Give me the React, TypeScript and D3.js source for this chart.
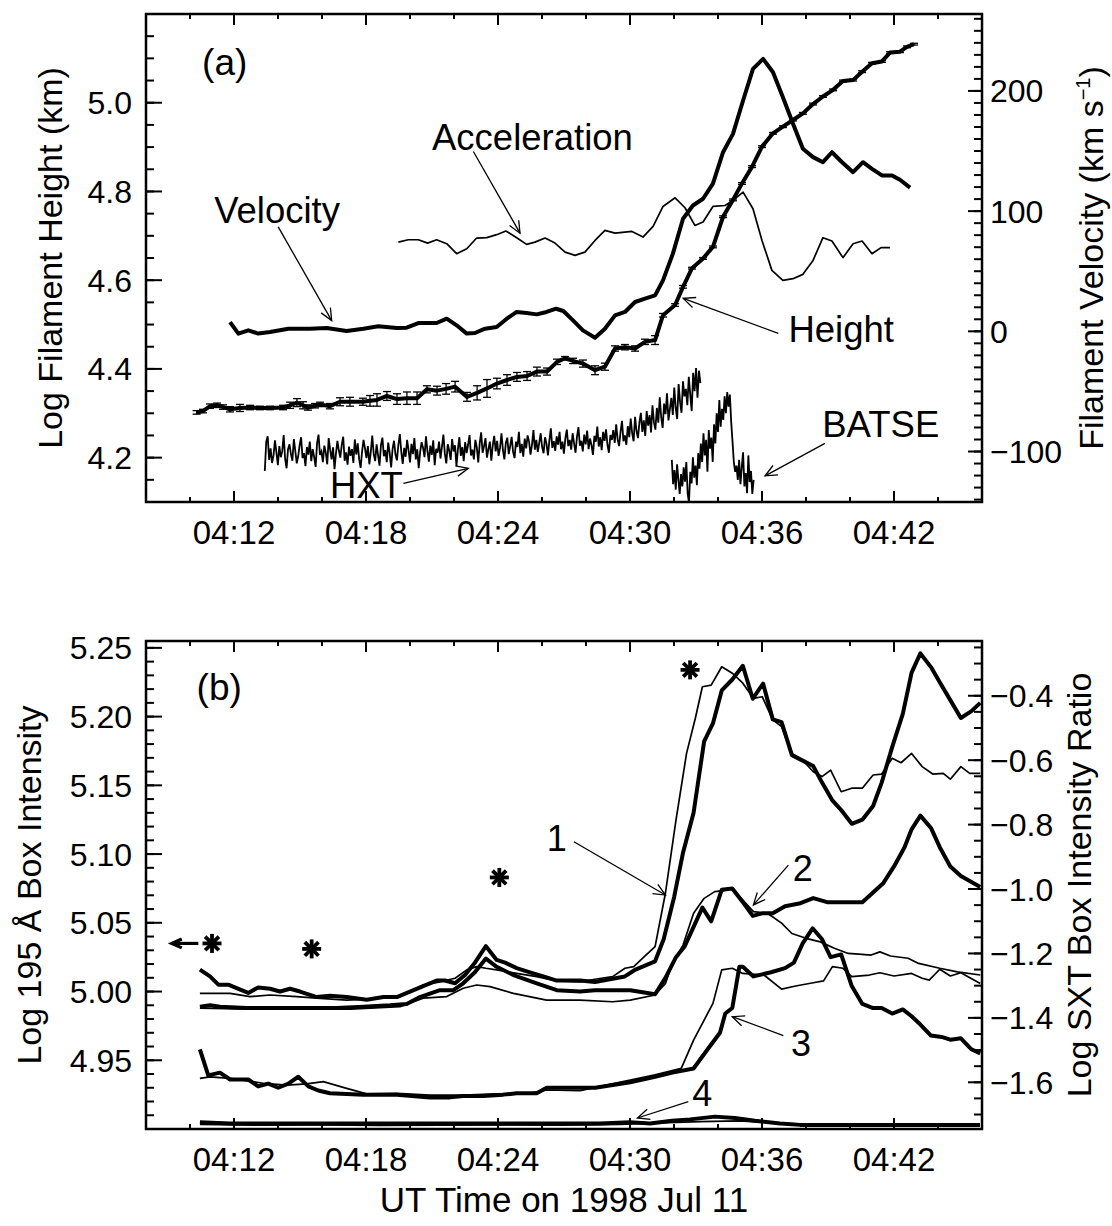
import React from 'react';
import * as d3 from 'd3';

// --- panel (a): filament height / velocity / acceleration, HXT & BATSE ---
// times are minutes after 04:00 UT

// [minute, log height (km), error]
const heightData: [number, number, number][] = [
  [10.30, 4.302, 0.004], [10.59, 4.305, 0.004], [10.91, 4.316, 0.005], [11.23, 4.318, 0.005],
  [11.50, 4.314, 0.005], [11.82, 4.309, 0.006], [12.27, 4.312, 0.008], [12.73, 4.313, 0.005],
  [13.18, 4.312, 0.004], [13.64, 4.312, 0.004], [14.23, 4.313, 0.005], [14.55, 4.318, 0.007],
  [14.86, 4.324, 0.009], [15.14, 4.318, 0.008], [15.36, 4.313, 0.006], [15.68, 4.317, 0.005],
  [15.91, 4.320, 0.005], [16.36, 4.316, 0.006], [16.82, 4.326, 0.009], [17.27, 4.326, 0.010],
  [17.86, 4.326, 0.008], [18.18, 4.328, 0.012], [18.50, 4.330, 0.014], [18.95, 4.339, 0.010],
  [19.41, 4.332, 0.012], [19.86, 4.334, 0.014], [20.32, 4.334, 0.014], [20.77, 4.354, 0.008],
  [21.23, 4.351, 0.010], [21.64, 4.355, 0.012], [22.05, 4.360, 0.012], [22.59, 4.337, 0.010],
  [23.05, 4.346, 0.016], [23.50, 4.356, 0.020], [23.95, 4.367, 0.012], [24.41, 4.375, 0.012],
  [24.86, 4.382, 0.010], [25.32, 4.384, 0.010], [25.77, 4.394, 0.010], [26.23, 4.394, 0.008],
  [26.68, 4.416, 0.006], [27.05, 4.424, 0.004], [27.41, 4.418, 0.006], [27.86, 4.412, 0.008],
  [28.41, 4.397, 0.010], [28.86, 4.405, 0.008], [29.32, 4.446, 0.006], [29.77, 4.449, 0.006],
  [30.23, 4.446, 0.006], [30.68, 4.461, 0.006], [31.14, 4.465, 0.010], [31.50, 4.521, 0.004],
  [32.05, 4.544, 0.003], [32.41, 4.585, 0.003], [32.82, 4.627, 0.002], [33.32, 4.649, 0.002],
  [33.77, 4.675, 0.002], [34.23, 4.743, 0.002], [34.68, 4.781, 0.002], [35.09, 4.818, 0.002],
  [35.55, 4.856, 0.002], [36.00, 4.901, 0.002], [36.50, 4.931, 0.002], [36.95, 4.946, 0.002],
  [37.41, 4.961, 0.002], [37.86, 4.976, 0.002], [38.32, 4.997, 0.002], [38.77, 5.014, 0.002],
  [39.23, 5.029, 0.002], [39.68, 5.049, 0.002], [40.14, 5.051, 0.002], [40.55, 5.070, 0.002],
  [41.00, 5.089, 0.002], [41.45, 5.093, 0.002], [41.82, 5.113, 0.002], [42.27, 5.115, 0.002],
  [42.59, 5.126, 0.002], [42.91, 5.132, 0.002],
];

// [minute, km/s]
const velocityData: [number, number][] = [
  [11.82, 7.7], [12.20, -1.9], [12.65, 0.8], [13.10, -1.9], [13.64, -0.6], [14.47, 2.2],
  [15.45, 2.2], [16.21, 2.8], [17.12, 0.3], [17.88, 2.2], [18.56, 4.2], [19.40, 2.8],
  [19.85, 3.0], [20.38, 6.9], [21.21, 6.9], [21.67, 10.5], [22.12, 5.0], [22.58, -1.9],
  [22.95, -1.4], [23.41, 2.2], [23.94, 3.6], [24.40, 10.5], [24.85, 16.1], [25.30, 15.2],
  [25.76, 14.1], [26.21, 16.1], [26.64, 18.8], [26.97, 16.9], [27.41, 9.1], [27.86, 0.8],
  [28.41, -5.3], [28.86, 2.2], [29.32, 13.3], [29.77, 16.1], [30.23, 24.4], [30.68, 27.2],
  [31.14, 29.9], [31.50, 42.4], [31.95, 64.6], [32.41, 93.7], [32.86, 104.7], [33.32, 110.3],
  [33.77, 122.8], [34.23, 149.0], [34.68, 164.3], [35.14, 192.0], [35.59, 218.4], [36.05, 226.7],
  [36.50, 215.5], [36.95, 194.8], [37.41, 172.7], [37.86, 151.9], [38.32, 144.9], [38.77, 140.7],
  [39.18, 149.0], [39.64, 140.7], [40.14, 132.4], [40.59, 140.7], [41.00, 135.2], [41.45, 129.7],
  [41.91, 129.7], [42.27, 126.1], [42.73, 119.5],
];

// acceleration, drawn on the velocity axis (arbitrary offset/units)
const accelData: [number, number][] = [
  [19.47, 74.2], [19.92, 76.2], [20.38, 76.2], [20.80, 73.4], [21.21, 76.2], [21.67, 72.9],
  [22.12, 64.6], [22.58, 68.7], [23.03, 77.6], [23.49, 77.9], [23.94, 80.4], [24.36, 83.4],
  [24.85, 77.9], [25.30, 72.3], [25.68, 74.2], [26.14, 77.6], [26.59, 73.4], [27.05, 65.9],
  [27.50, 63.2], [27.95, 65.9], [28.41, 75.6], [28.86, 84.0], [29.32, 81.7], [30.09, 83.1],
  [30.59, 78.4], [31.05, 87.3], [31.50, 103.9], [32.05, 111.1], [32.50, 102.8], [32.95, 88.1],
  [33.32, 90.9], [33.77, 103.9], [34.32, 104.7], [34.68, 108.9], [35.14, 115.8], [35.59, 102.0],
  [36.00, 75.6], [36.45, 50.7], [36.95, 42.4], [37.41, 43.8], [37.86, 47.4], [38.32, 59.0],
  [38.77, 77.9], [39.18, 75.1], [39.68, 61.3], [40.14, 72.9], [40.55, 75.1], [41.00, 64.6],
  [41.41, 69.6], [41.82, 69.6],
];

// HXT count rate, scaled onto the height axis
const hxtStart = 13.4;
const hxtStep = 0.066;
const hxtValues = [
  4.170, 4.236, 4.248, 4.195, 4.221, 4.188, 4.205, 4.239, 4.212, 4.183,
  4.226, 4.201, 4.214, 4.251, 4.197, 4.176, 4.219, 4.230, 4.208, 4.193,
  4.242, 4.215, 4.187, 4.203, 4.228, 4.246, 4.199, 4.210, 4.181, 4.224,
  4.207, 4.236, 4.192, 4.219, 4.201, 4.179, 4.233, 4.252, 4.206, 4.214,
  4.190, 4.227, 4.211, 4.185, 4.244, 4.218, 4.196, 4.223, 4.174, 4.209,
  4.238, 4.216, 4.200, 4.229, 4.247, 4.193, 4.212, 4.184, 4.225, 4.204,
  4.219, 4.188, 4.241, 4.207, 4.232, 4.196, 4.177, 4.214, 4.240, 4.221,
  4.199, 4.226, 4.185, 4.213, 4.250, 4.209, 4.192, 4.230, 4.205, 4.182,
  4.228, 4.245, 4.203, 4.217, 4.190, 4.234, 4.211, 4.178, 4.220, 4.238,
  4.207, 4.194, 4.229, 4.253, 4.213, 4.186, 4.222, 4.202, 4.240, 4.217,
  4.189, 4.231, 4.208, 4.244, 4.196, 4.219, 4.176, 4.213, 4.235, 4.222,
  4.201, 4.248, 4.215, 4.191, 4.227, 4.206, 4.239, 4.183, 4.220, 4.211,
  4.236, 4.198, 4.225, 4.252, 4.209, 4.187, 4.230, 4.216, 4.195, 4.242,
  4.214, 4.228, 4.181, 4.219, 4.246, 4.204, 4.224, 4.192, 4.235, 4.210,
  4.229, 4.251, 4.205, 4.218, 4.196, 4.240, 4.223, 4.189, 4.232, 4.257,
  4.211, 4.226, 4.244, 4.200, 4.219, 4.236, 4.193, 4.228, 4.249, 4.214,
  4.238, 4.204, 4.222, 4.255, 4.217, 4.196, 4.233, 4.245, 4.208, 4.226,
  4.247, 4.213, 4.199, 4.236, 4.224, 4.258, 4.210, 4.231, 4.202, 4.243,
  4.221, 4.250, 4.236, 4.207, 4.229, 4.262, 4.218, 4.240, 4.213, 4.233,
  4.255, 4.224, 4.210, 4.246, 4.231, 4.205, 4.239, 4.266, 4.222, 4.237,
  4.215, 4.248, 4.229, 4.258, 4.219, 4.236, 4.209, 4.244, 4.263, 4.226,
  4.240, 4.218, 4.255, 4.232, 4.211, 4.247, 4.269, 4.227, 4.238, 4.214,
  4.252, 4.230, 4.261, 4.219, 4.243, 4.228, 4.206, 4.249, 4.236, 4.270,
  4.225, 4.246, 4.217, 4.258, 4.238, 4.264, 4.229, 4.211, 4.251, 4.240,
  4.262, 4.233, 4.275, 4.241, 4.226, 4.258, 4.283, 4.237, 4.250, 4.229,
  4.271, 4.246, 4.288, 4.255, 4.237, 4.292, 4.260, 4.244, 4.279, 4.301,
  4.258, 4.284, 4.249, 4.305, 4.272, 4.296, 4.257, 4.318, 4.280, 4.263,
  4.312, 4.279, 4.336, 4.291, 4.267, 4.322, 4.298, 4.345, 4.284, 4.310,
  4.335, 4.296, 4.358, 4.312, 4.287, 4.366, 4.325, 4.301, 4.372, 4.338,
  4.355, 4.318, 4.382, 4.342, 4.305, 4.391, 4.350, 4.402, 4.335, 4.396,
  4.368,
];

// BATSE count rate, scaled onto the height axis
const batseStart = 31.9;
const batseStep = 0.06;
const batseValues = [
  4.195, 4.140, 4.172, 4.128, 4.185, 4.150, 4.118, 4.163, 4.135, 4.178,
  4.146, 4.190, 4.120, 4.098, 4.168, 4.142, 4.201, 4.155, 4.182, 4.138,
  4.210, 4.175, 4.232, 4.190, 4.255, 4.205, 4.240, 4.168, 4.262, 4.220,
  4.245, 4.190, 4.275, 4.232, 4.300, 4.258, 4.330, 4.270, 4.310, 4.285,
  4.338, 4.300, 4.348, 4.315, 4.342, 4.280, 4.236, 4.190, 4.168, 4.182,
  4.150, 4.195, 4.140, 4.178, 4.212, 4.135, 4.165, 4.120, 4.205, 4.145,
  4.170, 4.118, 4.150,
];

// --- panel (b): box intensities. thick = log 195 A (left), thin = log SXT ratio (right) ---
const box1Euv: [number, number][] = [
  [10.45, 5.016], [10.91, 5.011], [11.29, 5.005], [11.74, 5.005], [12.20, 5.002], [12.65, 4.999],
  [13.10, 5.003], [13.64, 5.002], [14.09, 5.000], [14.55, 5.002], [15.00, 5.000], [15.76, 4.996],
  [16.36, 4.997], [17.12, 4.996], [18.03, 4.994], [18.79, 4.996], [19.40, 4.996], [20.00, 5.000],
  [20.60, 5.004], [21.21, 5.008], [21.59, 5.008], [22.05, 5.006], [22.50, 5.012], [22.95, 5.021],
  [23.45, 5.033], [23.94, 5.023], [24.32, 5.021], [24.85, 5.017], [25.45, 5.014], [26.06, 5.011],
  [26.67, 5.008], [27.73, 5.008], [28.41, 5.007], [29.77, 5.011], [30.25, 5.016], [31.14, 5.022],
  [31.53, 5.038], [32.01, 5.069], [32.41, 5.101], [32.89, 5.130], [33.37, 5.182], [33.77, 5.195],
  [34.17, 5.219], [34.65, 5.227], [35.13, 5.237], [35.58, 5.213], [36.05, 5.224], [36.49, 5.198],
  [36.89, 5.196], [37.36, 5.172], [37.85, 5.168], [38.33, 5.164], [38.73, 5.152], [39.20, 5.139],
  [39.60, 5.132], [40.08, 5.122], [40.56, 5.125], [41.05, 5.135], [41.44, 5.152], [41.92, 5.178],
  [42.40, 5.202], [42.80, 5.232], [43.20, 5.246], [43.68, 5.236], [44.08, 5.225], [44.56, 5.212],
  [45.04, 5.199], [45.52, 5.204], [45.92, 5.210],
];
const box1Sxt: [number, number][] = [
  [10.45, -1.324], [11.82, -1.324], [12.73, -1.334], [13.64, -1.329], [14.85, -1.334], [15.76, -1.339],
  [17.12, -1.345], [18.18, -1.342], [19.40, -1.334], [20.00, -1.319], [20.60, -1.298], [21.36, -1.288],
  [22.05, -1.277], [22.58, -1.251], [23.03, -1.241], [23.45, -1.246], [23.94, -1.251], [24.85, -1.262],
  [25.76, -1.272], [26.67, -1.285], [27.73, -1.288], [28.41, -1.280], [29.21, -1.272], [29.77, -1.246],
  [30.17, -1.241], [30.65, -1.210], [31.14, -1.179], [31.61, -1.013], [32.09, -0.786], [32.57, -0.579],
  [32.97, -0.470], [33.29, -0.372], [33.69, -0.367], [34.17, -0.310], [34.65, -0.330], [35.13, -0.361],
  [35.61, -0.408], [36.01, -0.403], [36.49, -0.475], [36.89, -0.496], [37.36, -0.579], [37.85, -0.600],
  [38.33, -0.636], [38.73, -0.651], [39.12, -0.631], [39.60, -0.698], [40.08, -0.687], [40.56, -0.687],
  [41.05, -0.646], [41.44, -0.643], [41.92, -0.594], [42.32, -0.608], [42.80, -0.579], [43.28, -0.620],
  [43.76, -0.643], [44.24, -0.641], [44.56, -0.659], [45.04, -0.620], [45.44, -0.641], [45.92, -0.641],
];
const box2Euv: [number, number][] = [
  [10.45, 4.989], [10.91, 4.990], [11.36, 4.989], [12.58, 4.988], [14.09, 4.988], [15.60, 4.988],
  [16.67, 4.988], [17.88, 4.989], [19.09, 4.990], [19.85, 4.991], [20.45, 4.996], [21.36, 5.001],
  [21.97, 5.001], [22.42, 5.006], [22.95, 5.014], [23.45, 5.024], [23.94, 5.018], [24.70, 5.012],
  [25.76, 5.006], [26.67, 5.001], [27.73, 5.000], [28.41, 5.001], [30.01, 5.001], [31.14, 4.998],
  [31.61, 5.010], [32.09, 5.025], [32.49, 5.033], [32.89, 5.047], [33.29, 5.061], [33.69, 5.051],
  [34.17, 5.074], [34.65, 5.075], [35.13, 5.065], [35.58, 5.055], [36.05, 5.057], [36.49, 5.057],
  [37.05, 5.062], [37.69, 5.064], [38.33, 5.068], [38.96, 5.065], [39.92, 5.065], [40.56, 5.065],
  [41.05, 5.072], [41.52, 5.079], [42.00, 5.091], [42.48, 5.105], [42.80, 5.118], [43.20, 5.128],
  [43.68, 5.119], [44.08, 5.105], [44.56, 5.091], [45.04, 5.084], [45.92, 5.076],
];
const box2Sxt: [number, number][] = [
  [10.45, -1.370], [12.73, -1.373], [15.00, -1.373], [17.27, -1.373], [19.55, -1.365], [20.60, -1.339],
  [21.67, -1.334], [22.42, -1.308], [23.03, -1.298], [23.64, -1.303], [24.70, -1.324], [26.21, -1.345],
  [27.73, -1.345], [29.21, -1.350], [30.01, -1.345], [31.14, -1.329], [31.61, -1.293], [31.93, -1.231],
  [32.41, -1.174], [32.89, -1.075], [33.37, -1.029], [33.85, -1.008], [34.25, -1.005], [34.65, -0.998],
  [35.13, -1.034], [35.61, -1.070], [36.25, -1.075], [36.89, -1.106], [37.36, -1.138], [38.00, -1.153],
  [38.65, -1.164], [39.29, -1.184], [39.92, -1.200], [40.40, -1.202], [40.96, -1.205], [41.36, -1.195],
  [41.84, -1.208], [42.64, -1.215], [43.12, -1.231], [44.08, -1.246], [44.88, -1.257], [45.92, -1.267],
];
const box3Euv: [number, number][] = [
  [10.45, 4.958], [10.83, 4.939], [11.36, 4.941], [11.82, 4.936], [12.65, 4.936], [13.10, 4.931],
  [13.56, 4.933], [14.01, 4.930], [14.47, 4.933], [14.92, 4.938], [15.38, 4.931], [15.83, 4.928],
  [16.36, 4.926], [17.88, 4.925], [19.40, 4.925], [20.91, 4.923], [21.82, 4.923], [22.42, 4.924],
  [23.33, 4.924], [24.24, 4.925], [24.85, 4.926], [25.76, 4.926], [26.21, 4.930], [27.73, 4.930],
  [28.42, 4.930], [30.01, 4.934], [31.14, 4.938], [31.93, 4.941], [32.89, 4.944], [33.53, 4.958],
  [34.09, 4.970], [34.33, 4.984], [34.65, 4.988], [34.97, 5.018], [35.13, 5.018], [35.61, 5.011],
  [36.41, 5.014], [37.05, 5.017], [37.45, 5.021], [37.85, 5.035], [38.30, 5.046], [38.73, 5.038],
  [39.12, 5.025], [39.60, 5.027], [40.08, 5.004], [40.56, 4.991], [41.05, 4.988], [41.44, 4.988],
  [41.92, 4.984], [42.40, 4.987], [42.80, 4.982], [43.20, 4.976], [43.68, 4.968], [44.16, 4.967],
  [44.56, 4.965], [45.04, 4.966], [45.52, 4.958], [45.92, 4.955],
];
const box3Sxt: [number, number][] = [
  [10.45, -1.588], [10.91, -1.583], [11.82, -1.588], [13.33, -1.603], [14.40, -1.609], [15.30, -1.605],
  [16.06, -1.598], [17.12, -1.619], [18.03, -1.636], [19.40, -1.634], [20.91, -1.640], [22.42, -1.640],
  [23.94, -1.636], [25.45, -1.634], [26.21, -1.624], [27.73, -1.626], [30.01, -1.593], [31.14, -1.577],
  [32.33, -1.557], [32.89, -1.469], [33.37, -1.407], [33.77, -1.355], [34.17, -1.251], [34.65, -1.246],
  [35.13, -1.262], [36.09, -1.267], [36.89, -1.311], [37.53, -1.301], [38.33, -1.291], [38.80, -1.285],
  [39.20, -1.241], [39.68, -1.246], [40.08, -1.272], [40.88, -1.267], [41.36, -1.260], [42.00, -1.270],
  [42.80, -1.262], [43.28, -1.277], [43.60, -1.283], [44.08, -1.249], [44.56, -1.270], [45.04, -1.260],
  [45.92, -1.293],
];
const box4Euv: [number, number][] = [
  [10.45, 4.905], [11.82, 4.904], [13.64, 4.904], [15.45, 4.904], [17.27, 4.904], [19.55, 4.904],
  [21.36, 4.904], [23.18, 4.904], [25.00, 4.904], [26.82, 4.904], [28.64, 4.904], [30.00, 4.905],
  [30.91, 4.904], [31.91, 4.906], [32.73, 4.907], [33.86, 4.909], [34.77, 4.908], [35.68, 4.906],
  [36.82, 4.904], [37.73, 4.903], [39.55, 4.903], [41.36, 4.903], [43.18, 4.903], [45.00, 4.903],
  [45.91, 4.903],
];
const box4Sxt: [number, number][] = [
  [10.45, -1.731], [13.18, -1.733], [15.91, -1.732], [18.64, -1.734], [21.36, -1.733], [24.09, -1.732],
  [26.82, -1.733], [29.55, -1.731], [31.36, -1.726], [33.18, -1.722], [35.00, -1.720], [36.82, -1.727],
  [38.64, -1.732], [41.36, -1.733], [44.09, -1.732], [45.91, -1.733],
];
// EIT 195 A full-cadence points (asterisks)
const eitPoints: [number, number][] = [[11.0, 5.035], [15.53, 5.031], [24.06, 5.083], [32.73, 5.234]];

const xMajor = [12, 18, 24, 30, 36, 42];
const heightTicks = [4.2, 4.4, 4.6, 4.8, 5.0];
const velocityTicks = [-100, 0, 100, 200];
const euvTicks = [4.95, 5.0, 5.05, 5.1, 5.15, 5.2, 5.25];
const ratioTicks = [-1.6, -1.4, -1.2, -1.0, -0.8, -0.6, -0.4];

const FONT = "'Liberation Sans', Arial, Helvetica, sans-serif";
const X0 = 146, X1 = 982;
const A_TOP = 14, A_BOT = 502;
const B_TOP = 641, B_BOT = 1129;

const minus = (s: string) => s.replace('-', '\u2212');

function multiples(d0: number, d1: number, step: number) {
  const lo = Math.min(d0, d1), hi = Math.max(d0, d1);
  const out: number[] = [];
  for (let k = Math.ceil(lo / step - 1e-6); k <= Math.floor(hi / step + 1e-6); k++) out.push(k * step);
  return out;
}

function Arrow({ x1, y1, x2, y2, w = 1.3, head = 13 }: any) {
  const a = Math.atan2(y2 - y1, x2 - x1);
  const s = 0.42;
  const p1 = [x2 - head * Math.cos(a - s), y2 - head * Math.sin(a - s)];
  const p2 = [x2 - head * Math.cos(a + s), y2 - head * Math.sin(a + s)];
  return (
    <g stroke="#000" strokeWidth={w} fill="none">
      <line x1={x1} y1={y1} x2={x2} y2={y2} />
      <polyline points={`${p1[0]},${p1[1]} ${x2},${y2} ${p2[0]},${p2[1]}`} />
    </g>
  );
}

function XAxis({ x, top, bot }: any) {
  const minors = multiples(8, 46, 2).filter((m) => !xMajor.includes(m));
  return (
    <g stroke="#000" strokeWidth={2}>
      {xMajor.map((m) => (
        <g key={m}>
          <line x1={x(m)} x2={x(m)} y1={bot} y2={bot - 11} />
          <line x1={x(m)} x2={x(m)} y1={top} y2={top + 11} />
        </g>
      ))}
      {minors.map((m) => (
        <g key={m}>
          <line x1={x(m)} x2={x(m)} y1={bot} y2={bot - 5} />
          <line x1={x(m)} x2={x(m)} y1={top} y2={top + 5} />
        </g>
      ))}
      {xMajor.map((m) => (
        <text key={'l' + m} x={x(m)} y={bot + 42} textAnchor="middle" fontSize={33} stroke="none" fill="#000">
          {`04:${String(m).padStart(2, '0')}`}
        </text>
      ))}
    </g>
  );
}

function YAxis({ scale, side, majors, minorStep, fmt, majorLen = 16, minorLen = 8 }: any) {
  const [d0, d1] = scale.domain();
  const minors = multiples(d0, d1, minorStep);
  const xe = side === 'left' ? X0 : X1;
  const dir = side === 'left' ? 1 : -1;
  return (
    <g stroke="#000" strokeWidth={2}>
      {minors.map((v) => (
        <line key={'m' + v} x1={xe} x2={xe + dir * minorLen} y1={scale(v)} y2={scale(v)} />
      ))}
      {majors.map((v: number) => (
        <g key={'M' + v}>
          <line x1={xe} x2={xe + dir * majorLen} y1={scale(v)} y2={scale(v)} />
          <text
            x={side === 'left' ? X0 - 14 : X1 + 8}
            y={scale(v)}
            dy="0.36em"
            textAnchor={side === 'left' ? 'end' : 'start'}
            fontSize={32}
            stroke="none"
            fill="#000"
          >
            {minus(fmt(v))}
          </text>
        </g>
      ))}
    </g>
  );
}

function Asterisk({ cx, cy }: any) {
  const r = 9.5;
  const k = r * 0.72;
  return (
    <g stroke="#000" strokeWidth={3.8}>
      <line x1={cx - r} x2={cx + r} y1={cy} y2={cy} />
      <line x1={cx} x2={cx} y1={cy - r} y2={cy + r} />
      <line x1={cx - k} x2={cx + k} y1={cy - k} y2={cy + k} />
      <line x1={cx - k} x2={cx + k} y1={cy + k} y2={cy - k} />
    </g>
  );
}

export default function App() {
  const x = d3.scaleLinear().domain([8, 46]).range([X0, X1]);
  const yH = d3.scaleLinear().domain([4.1, 5.2]).range([A_BOT, A_TOP]);
  const yV = d3.scaleLinear().domain([-142, 264]).range([A_BOT, A_TOP]);
  const yI = d3.scaleLinear().domain([4.9, 5.255]).range([B_BOT, B_TOP]);
  const yR = d3.scaleLinear().domain([-1.745, -0.23]).range([B_BOT, B_TOP]);

  const lineOn = (ys: any) => d3.line<[number, number]>().x((d) => x(d[0])).y((d) => ys(d[1]));
  const hxt: [number, number][] = hxtValues.map((v, i) => [hxtStart + i * hxtStep, v]);
  const batse: [number, number][] = batseValues.map((v, i) => [batseStart + i * batseStep, v]);

  const thick = { fill: 'none', stroke: '#000', strokeWidth: 4, strokeLinejoin: 'round' as const };
  const thin = { fill: 'none', stroke: '#000', strokeWidth: 1.7, strokeLinejoin: 'round' as const };

  const pA = (t: number, v: number) => [x(t), yH(v)];
  const pB = (t: number, v: number) => [x(t), yI(v)];

  const annA = [
    { text: 'Velocity', t: 11.1, v: 4.758, from: [14.01, 4.72], to: [16.44, 4.509] },
    { text: 'Acceleration', t: 21.0, v: 4.923, from: [22.88, 4.89], to: [25.0, 4.706] },
    { text: 'Height', t: 37.2, v: 4.49, from: [36.74, 4.48], to: [32.42, 4.559] },
    { text: 'BATSE', t: 38.74, v: 4.276, from: [38.86, 4.232], to: [36.14, 4.159] },
    { text: 'HXT', t: 16.36, v: 4.138, from: [19.7, 4.142], to: [22.65, 4.176] },
  ];
  const annB = [
    { text: '1', t: 26.67, v: 5.1115, from: [27.45, 5.109], to: [31.61, 5.0702] },
    { text: '2', t: 37.85, v: 5.0897, from: [37.2, 5.092], to: [35.61, 5.063] },
    { text: '3', t: 37.77, v: 4.9623, from: [36.97, 4.968], to: [34.65, 4.9817] },
    { text: '4', t: 33.29, v: 4.926, from: [32.65, 4.92], to: [30.34, 4.908] },
  ];

  return (
    <svg
      width={1112}
      height={1226}
      style={{ position: 'absolute', left: 0, top: 0, background: '#fff' }}
      fontFamily={FONT}
    >
      <defs>
        <clipPath id="clipA">
          <rect x={X0} y={A_TOP} width={X1 - X0} height={A_BOT - A_TOP} />
        </clipPath>
        <clipPath id="clipB">
          <rect x={X0} y={B_TOP} width={X1 - X0} height={B_BOT - B_TOP} />
        </clipPath>
      </defs>

      {/* ---------------- panel (a) ---------------- */}
      <g clipPath="url(#clipA)">
        <path d={lineOn(yH)(hxt) || ''} fill="none" stroke="#000" strokeWidth={1.8} />
        <path d={lineOn(yH)(batse) || ''} fill="none" stroke="#000" strokeWidth={1.8} />
        <path d={lineOn(yV)(accelData) || ''} {...thin} />
        <path d={lineOn(yV)(velocityData) || ''} {...thick} />
        <path d={lineOn(yH)(heightData.map((d) => [d[0], d[1]] as [number, number])) || ''} {...thick} />
        <g stroke="#000" strokeWidth={1.3}>
          {heightData.map((d, i) => {
            const cx = x(d[0]);
            const y1 = yH(d[1] - d[2]);
            const y2 = yH(d[1] + d[2]);
            return (
              <g key={i}>
                <line x1={cx} x2={cx} y1={y1} y2={y2} />
                <line x1={cx - 4} x2={cx + 4} y1={y1} y2={y1} />
                <line x1={cx - 4} x2={cx + 4} y1={y2} y2={y2} />
              </g>
            );
          })}
        </g>
      </g>
      <rect x={X0} y={A_TOP} width={X1 - X0} height={A_BOT - A_TOP} fill="none" stroke="#000" strokeWidth={2.5} />
      <XAxis x={x} top={A_TOP} bot={A_BOT} />
      <YAxis scale={yH} side="left" majors={heightTicks} minorStep={0.05} fmt={d3.format('.1f')} />
      <YAxis scale={yV} side="right" majors={velocityTicks} minorStep={10} fmt={d3.format('d')} majorLen={14} />

      <text x={x(10.55)} y={yH(5.092)} dy="0.36em" fontSize={37}>(a)</text>
      {annA.map((a) => {
        const [fx, fy] = pA(a.from[0], a.from[1]);
        const [tx, ty] = pA(a.to[0], a.to[1]);
        return (
          <g key={a.text}>
            <text x={x(a.t)} y={yH(a.v)} dy="0.36em" fontSize={36.5}>{a.text}</text>
            <Arrow x1={fx} y1={fy} x2={tx} y2={ty} />
          </g>
        );
      })}

      <text transform={`translate(62,${(A_TOP + A_BOT) / 2}) rotate(-90)`} textAnchor="middle" fontSize={34}>
        Log Filament Height (km)
      </text>
      <text transform={`translate(1103,${(A_TOP + A_BOT) / 2}) rotate(-90)`} textAnchor="middle" fontSize={34}>
        Filament Velocity (km s
        <tspan dy={-13} fontSize={20}>{'\u22121'}</tspan>
        <tspan dy={13}>)</tspan>
      </text>

      {/* ---------------- panel (b) ---------------- */}
      <g clipPath="url(#clipB)">
        <path d={lineOn(yR)(box4Sxt) || ''} {...thin} />
        <path d={lineOn(yI)(box4Euv) || ''} {...thick} />
        <path d={lineOn(yR)(box3Sxt) || ''} {...thin} />
        <path d={lineOn(yI)(box3Euv) || ''} {...thick} />
        <path d={lineOn(yR)(box2Sxt) || ''} {...thin} />
        <path d={lineOn(yI)(box2Euv) || ''} {...thick} />
        <path d={lineOn(yR)(box1Sxt) || ''} {...thin} />
        <path d={lineOn(yI)(box1Euv) || ''} {...thick} />
        {eitPoints.map((p, i) => (
          <Asterisk key={i} cx={x(p[0])} cy={yI(p[1])} />
        ))}
      </g>
      <rect x={X0} y={B_TOP} width={X1 - X0} height={B_BOT - B_TOP} fill="none" stroke="#000" strokeWidth={2.5} />
      <XAxis x={x} top={B_TOP} bot={B_BOT} />
      <YAxis scale={yI} side="left" majors={euvTicks} minorStep={0.01} fmt={d3.format('.2f')} />
      <YAxis scale={yR} side="right" majors={ratioTicks} minorStep={0.05} fmt={d3.format('.1f')} majorLen={14} />

      {/* first EIT point lies before the plotted range */}
      <Arrow
        x1={x(10.38)}
        y1={yI(eitPoints[0][1])}
        x2={x(9.17)}
        y2={yI(eitPoints[0][1])}
        w={3.2}
        head={11}
      />

      <text x={x(10.3)} y={yI(5.2215)} dy="0.36em" fontSize={37}>(b)</text>
      {annB.map((a) => {
        const [fx, fy] = pB(a.from[0], a.from[1]);
        const [tx, ty] = pB(a.to[0], a.to[1]);
        return (
          <g key={a.text}>
            <text x={x(a.t)} y={yI(a.v)} dy="0.36em" textAnchor="middle" fontSize={36}>{a.text}</text>
            <Arrow x1={fx} y1={fy} x2={tx} y2={ty} />
          </g>
        );
      })}

      <text transform={`translate(41,${(B_TOP + B_BOT) / 2}) rotate(-90)`} textAnchor="middle" fontSize={34}>
        Log 195 Å Box Intensity
      </text>
      <text transform={`translate(1091,${(B_TOP + B_BOT) / 2}) rotate(-90)`} textAnchor="middle" fontSize={34}>
        Log SXT Box Intensity Ratio
      </text>
      <text x={(X0 + X1) / 2} y={1212} textAnchor="middle" fontSize={35}>
        UT Time on 1998 Jul 11
      </text>
    </svg>
  );
}
